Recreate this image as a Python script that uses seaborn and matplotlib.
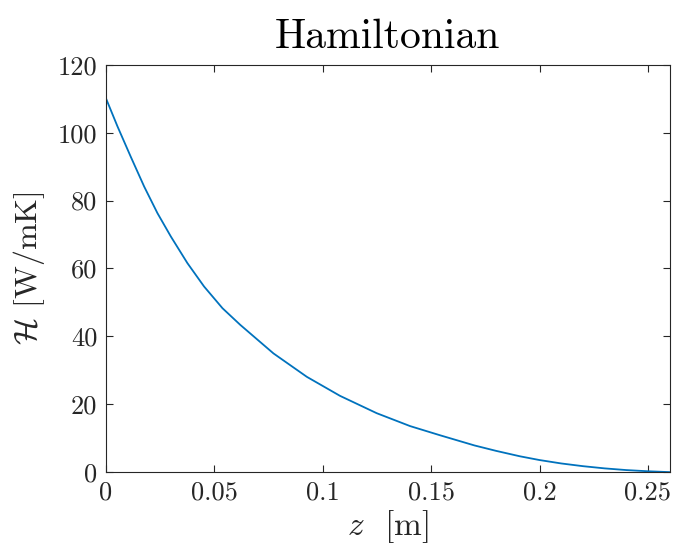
import numpy as np
import pandas as pd
import seaborn as sns
import matplotlib.pyplot as plt

# values
z_m = [0, 0.0054, 0.0115, 0.0177, 0.0238, 0.030, 0.0376, 0.0453, 0.0538, 0.062,
       0.0773, 0.0927, 0.108, 0.1249, 0.1403, 0.1541, 0.17, 0.18,
       0.191, 0.20, 0.21, 0.22, 0.23, 0.24, 0.25, 0.26]
hamiltonian = [110.2, 101.8, 92.9, 84.1, 76.3, 69.4, 61.6, 54.7, 48.3, 43.4,
               35.0, 28.1, 22.5, 17.4, 13.6, 10.9, 7.9, 6.3,
               4.7, 3.6, 2.6, 1.8, 1.15, 0.65, 0.3, 0.05]
x_ticks = [0, 0.05, 0.1, 0.15, 0.2, 0.25]
x_tick_labels = ['0', '0.05', '0.1', '0.15', '0.2', '0.25']
y_ticks = [0, 20, 40, 60, 80, 100, 120]

sns.set_style('ticks')
plt.rcParams['font.family'] = ['serif']
plt.rcParams['font.serif'] = ['cmr10', 'DejaVu Serif']
plt.rcParams['mathtext.fontset'] = 'cm'
plt.rcParams['axes.unicode_minus'] = False
plt.rcParams['axes.formatter.use_mathtext'] = True

df = pd.DataFrame({'z': z_m, 'H': hamiltonian})

fig = plt.figure(figsize=(6.74, 5.54), dpi=100)
ax = fig.add_axes([0.157, 0.1475, 0.8366, 0.7357])
sns.lineplot(data=df, x='z', y='H', ax=ax, color='#0072BD', linewidth=1.3)

ax.set_xlim(0, 0.26)
ax.set_ylim(0, 120)
ax.set_xticks(x_ticks)
ax.set_xticklabels(x_tick_labels)
ax.set_yticks(y_ticks)
ax.set_yticklabels([str(v) for v in y_ticks])

for s in ax.spines.values():
    s.set_color('#262626')
    s.set_linewidth(0.8)
ax.tick_params(direction='in', top=True, right=True, length=5, width=0.8,
               colors='#262626', labelsize=19, pad=6)

ax.set_title('Hamiltonian', fontsize=30, color='black', pad=12)
ax.set_xlabel(r'$z$  [m]', fontsize=24, color='#262626', labelpad=3)
ax.set_ylabel(r'$\mathcal{H}$ [W/mK]', fontsize=23, color='#262626', labelpad=8)

fig.savefig('out.png', dpi=100)
plt.close()
